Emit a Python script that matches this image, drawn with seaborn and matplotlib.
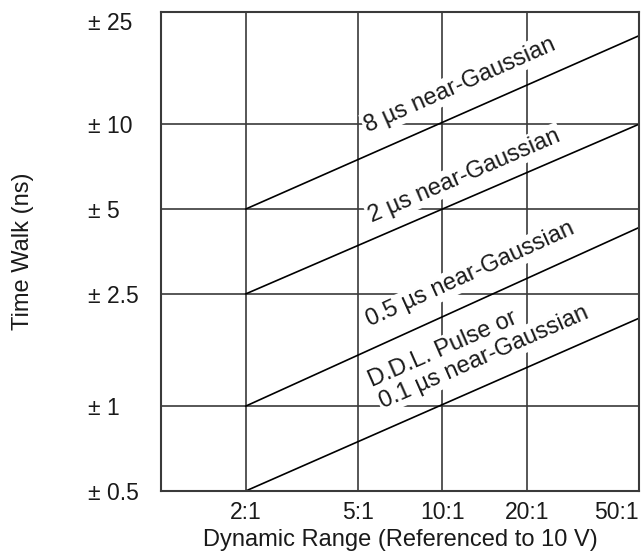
import numpy as np
import pandas as pd
import matplotlib
matplotlib.use("Agg")
import matplotlib.pyplot as plt
import seaborn as sns

# ----------------------------------------------------------
# Data
# ----------------------------------------------------------
ratio = [2, 50]
walk_8us = [5, 20.6]
walk_2us = [2.5, 10]
walk_05us = [1, 4.3]
walk_01us = [0.5, 2.05]

x_ticks = [2, 5, 10, 20, 50]
x_labels = ["2:1", "5:1", "10:1", "20:1", "50:1"]
y_ticks = [0.5, 1, 2.5, 5, 10, 25]
y_labels = ["± 0.5", "± 1", "± 2.5", "± 5", "± 10", "± 25"]

# curve labels: (text, x, y, curve it follows)
curve_labels = [
    ("8 µs near-Gaussian", 5.44, 9.38, "8us"),
    ("2 µs near-Gaussian", 5.62, 4.50, "2us"),
    ("0.5 µs near-Gaussian", 5.53, 1.91, "05us"),
    ("D.D.L. Pulse or", 5.62, 1.17, "01us"),
    ("0.1 µs near-Gaussian", 6.16, 0.985, "01us"),
]

df = pd.concat([
    pd.DataFrame({"ratio": ratio, "walk": walk_8us, "curve": "8us"}),
    pd.DataFrame({"ratio": ratio, "walk": walk_2us, "curve": "2us"}),
    pd.DataFrame({"ratio": ratio, "walk": walk_05us, "curve": "05us"}),
    pd.DataFrame({"ratio": ratio, "walk": walk_01us, "curve": "01us"}),
])

# ----------------------------------------------------------
# Style
# ----------------------------------------------------------
sns.set_style("white")
plt.rcParams["font.family"] = ["Liberation Sans", "DejaVu Sans"]

fig = plt.figure(figsize=(6.43, 5.52), dpi=100)
ax = fig.add_axes([161 / 643, 61 / 552, 478 / 643, 479 / 552])

sns.lineplot(
    data=df,
    x="ratio",
    y="walk",
    hue="curve",
    palette=["black"] * 4,
    linewidth=1.2,
    legend=False,
    ax=ax,
    zorder=3,
)

ax.set_xscale("log")
ax.set_yscale("log")
ax.set_xlim(1, 50)
ax.set_ylim(0.5, 25)
ax.minorticks_off()

ax.set_xticks(x_ticks)
ax.set_xticklabels(x_labels)
ax.set_yticks(y_ticks)
ax.set_yticklabels(y_labels)

grid_col = "#3a3a3a"
ax.grid(True, which="major", color=grid_col, linewidth=1.2, zorder=1)
ax.set_axisbelow(True)
for sp in ax.spines.values():
    sp.set_color(grid_col)
    sp.set_linewidth(1.5)
    sp.set_zorder(4)

ax.tick_params(axis="both", length=0, colors="#1a1a1a")
ax.tick_params(axis="x", pad=7, labelsize=16.5)
ax.tick_params(axis="y", pad=52.6, labelsize=16.5)
for lab in ax.get_yticklabels():
    lab.set_ha("left")
ax.get_yticklabels()[-1].set_va("top")
ax.get_xticklabels()[-1].set_ha("right")

ax.set_xlabel("Dynamic Range (Referenced to 10 V)", fontsize=17, color="#1a1a1a")
ax.set_ylabel("Time Walk (ns)", fontsize=17, color="#1a1a1a")
ax.xaxis.set_label_coords(0.5, -0.08)
ax.xaxis.label.set_va("top")
ax.yaxis.set_label_coords(-0.289, 0.5)
ax.yaxis.label.set_va("center")

# ----------------------------------------------------------
# Curve labels, rotated along their curve
# ----------------------------------------------------------
curves = {"8us": walk_8us, "2us": walk_2us, "05us": walk_05us, "01us": walk_01us}
for text, tx, ty, key in curve_labels:
    p = ax.transData.transform(np.column_stack([ratio, curves[key]]))
    angle = np.degrees(np.arctan2(p[1, 1] - p[0, 1], p[1, 0] - p[0, 0]))
    ax.text(
        tx, ty, text,
        rotation=angle,
        rotation_mode="anchor",
        ha="left",
        va="baseline",
        fontsize=17,
        color="#1a1a1a",
        zorder=2,
        bbox=dict(facecolor="white", edgecolor="none", pad=1.5),
    )

fig.savefig("out.png", dpi=100)
